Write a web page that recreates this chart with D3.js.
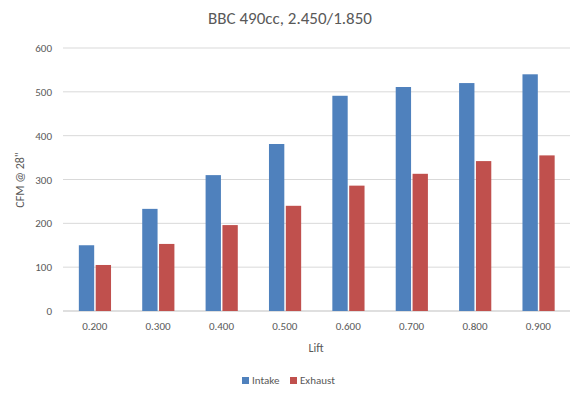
<!DOCTYPE html>
<html><head><meta charset="utf-8">
<script src="https://cdn.jsdelivr.net/npm/d3@7"></script>
<style>body{margin:0;background:#fff}text{font-family:Calibri,Carlito,"Open Sans",sans-serif}</style>
</head><body><svg id="c" width="580" height="400"></svg>
<script>
const categories=["0.200","0.300","0.400","0.500","0.600","0.700","0.800","0.900"];
const intake=[150,233,310,381,491,511,520,540];
const exhaust=[105,153,196,240,286,313,342,355];
const yTicks=[0,100,200,300,400,500,600];
const svg=d3.select("#c");
const m={l:63,r:570,t:48,b:311};
const x=d3.scaleBand().domain(categories).range([m.l,m.r]).paddingInner(0.5).paddingOuter(0.25);
const y=d3.scaleLinear().domain([0,600]).range([m.b,m.t]);
svg.append("text").attr("x",290).attr("y",24).attr("text-anchor","middle").attr("font-size",17).attr("fill","#595959").text("BBC 490cc, 2.450/1.850");
yTicks.forEach(t=>{
 svg.append("line").attr("x1",m.l).attr("x2",m.r).attr("y1",y(t)).attr("y2",y(t)).attr("stroke",t?"#d9d9d9":"#bfbfbf");
 svg.append("text").attr("x",52).attr("y",y(t)+4).attr("text-anchor","end").attr("font-size",11).attr("fill","#595959").text(t);
});
const bw=x.bandwidth()/2;
const colors=["#4f81bd","#c0504d"];
[intake,exhaust].forEach((s,i)=>{
 svg.selectAll(null).data(s).enter().append("rect")
  .attr("x",(d,j)=>x(categories[j])+i*(bw+1)).attr("width",bw-0.5)
  .attr("y",d=>y(d)).attr("height",d=>m.b-y(d)).attr("fill",colors[i]);
});
categories.forEach(c=>svg.append("text").attr("x",x(c)+x.bandwidth()/2).attr("y",330).attr("text-anchor","middle").attr("font-size",11).attr("fill","#595959").text(c));
svg.append("text").attr("x",316).attr("y",352).attr("text-anchor","middle").attr("font-size",12).attr("fill","#595959").text("Lift");
svg.append("text").attr("transform","translate(24,180) rotate(-90)").attr("text-anchor","middle").attr("font-size",12).attr("fill","#595959").text('CFM @ 28"');
[["Intake",242],["Exhaust",290]].forEach(([n,lx],i)=>{
 svg.append("rect").attr("x",lx).attr("y",377).attr("width",7).attr("height",7).attr("fill",colors[i]);
 svg.append("text").attr("x",lx+10).attr("y",384).attr("font-size",11).attr("fill","#595959").text(n);
});
</script></body></html>
